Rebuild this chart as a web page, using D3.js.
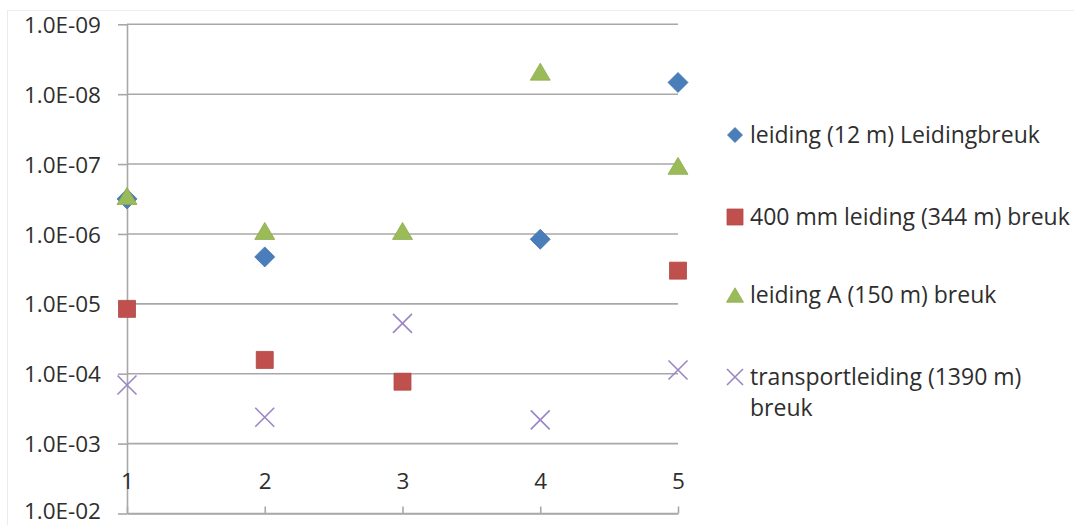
<!DOCTYPE html>
<html>
<head>
<meta charset="utf-8">
<script src="https://cdn.jsdelivr.net/npm/d3@7"></script>
<style>
  html, body { margin: 0; padding: 0; background: #ffffff; }
  svg { display: block; }
  text { font-family: "Open Sans", "Liberation Sans", sans-serif; fill: #2e2e2e; }
</style>
</head>
<body>
<svg id="chart" width="1074" height="525"></svg>
<script>
// Scenario numbers along the horizontal axis
const scenarios = [1, 2, 3, 4, 5];

// Probability per scenario for each pipe failure (null = no value)
const leiding12 = [3.15e-7, 2.13e-6, null, 1.19e-6, 6.8e-9];
const leiding400mm = [1.18e-5, 6.35e-5, 1.30e-4, null, 3.35e-6];
const leidingA = [2.86e-7, 9.05e-7, 9.05e-7, 4.76e-9, 1.06e-7];
const transportleiding = [1.45e-4, 4.19e-4, 1.90e-5, 4.58e-4, 8.83e-5];

// Axis tick values and series names
const yTicks = [1e-9, 1e-8, 1e-7, 1e-6, 1e-5, 1e-4, 1e-3, 1e-2];
const seriesNames = [
  "leiding (12 m) Leidingbreuk",
  "400 mm leiding (344 m) breuk",
  "leiding A (150 m) breuk",
  ["transportleiding (1390 m)", "breuk"]
];

const series = [
  { name: seriesNames[0], values: leiding12, shape: "diamond", color: "#4A7EBB" },
  { name: seriesNames[1], values: leiding400mm, shape: "square", color: "#C0504D" },
  { name: seriesNames[2], values: leidingA, shape: "triangle", color: "#9BBB59" },
  { name: seriesNames[3], values: transportleiding, shape: "x", color: "#9A86C4" }
];

const svg = d3.select("#chart");
const gridColor = "#a8a8a8";
const labelSize = "22.5px";

// Chart area frame
svg.append("rect")
  .attr("x", 7.5).attr("y", 10.5)
  .attr("width", 1100).attr("height", 600)
  .attr("fill", "none").attr("stroke", "#ececec");

// Reversed logarithmic value axis: smallest probability on top
const y = d3.scaleLog().domain([1e-9, 1e-2]).range([24.3, 513.5]);
const x = d3.scaleLinear().domain([1, 5]).range([127, 678]);

// Horizontal gridlines
svg.append("g")
  .selectAll("line")
  .data(yTicks)
  .join("line")
  .attr("x1", x(1)).attr("x2", x(5))
  .attr("y1", d => y(d)).attr("y2", d => y(d))
  .attr("stroke", gridColor).attr("stroke-width", 1.6);

// Exponent label like 1.0E-09
const sci = v => {
  const e = Math.round(Math.log10(v));
  const m = v / Math.pow(10, e);
  const sign = e < 0 ? "-" : "+";
  return m.toFixed(1) + "E" + sign + String(Math.abs(e)).padStart(2, "0");
};

const yAxis = svg.append("g")
  .attr("transform", `translate(${x(1)},0)`)
  .call(d3.axisLeft(y).tickValues(yTicks).tickFormat(sci).tickSize(9).tickSizeOuter(0).tickPadding(17));
yAxis.select(".domain").attr("stroke", gridColor).attr("stroke-width", 1.6);
yAxis.selectAll(".tick line").attr("stroke", gridColor).attr("stroke-width", 1.6);
yAxis.selectAll(".tick text")
  // lowest label sits against the bottom edge, keep it inside the frame
  .attr("dy", d => d === 1e-2 ? "0.24em" : "0.36em")
  .style("font-family", "\"Open Sans\", sans-serif")
  .style("font-size", labelSize)
  .attr("fill", "#2e2e2e");

const xAxis = svg.append("g")
  .attr("transform", `translate(0,${y(1e-2)})`)
  .call(d3.axisTop(x).tickValues(scenarios).tickFormat(d3.format("d")).tickSize(7).tickSizeOuter(0).tickPadding(18));
xAxis.select(".domain").attr("stroke", gridColor).attr("stroke-width", 1.6);
xAxis.selectAll(".tick line").attr("stroke", gridColor).attr("stroke-width", 1.6);
xAxis.selectAll(".tick text")
  .style("font-family", "\"Open Sans\", sans-serif")
  .style("font-size", labelSize)
  .attr("fill", "#2e2e2e");

// Marker shapes, centred on their bounding box
function markerPath(shape, s) {
  const h = s / 2;
  if (shape === "diamond") return `M0,${-h}L${h},0L0,${h}L${-h},0Z`;
  if (shape === "square") return `M${-h},${-h}H${h}V${h}H${-h}Z`;
  if (shape === "triangle") return `M0,${-h * 0.85}L${h},${h * 0.85}L${-h},${h * 0.85}Z`;
  return `M${-h},${-h}L${h},${h}M${h},${-h}L${-h},${h}`;
}
const markerSize = { diamond: 20, square: 17, triangle: 20, x: 19 };

function drawMarker(g, shape, color, size) {
  const p = g.append("path").attr("d", markerPath(shape, size));
  if (shape === "x") {
    p.attr("fill", "none").attr("stroke", color).attr("stroke-width", 1.6);
  } else {
    p.attr("fill", color).attr("stroke", d3.color(color).darker(0.25)).attr("stroke-width", 0.8);
  }
}

// Data points
series.forEach(s => {
  const g = svg.append("g");
  s.values.forEach((v, i) => {
    if (v == null) return;
    const m = g.append("g").attr("transform", `translate(${x(scenarios[i])},${y(v)})`);
    drawMarker(m, s.shape, s.color, markerSize[s.shape]);
  });
});

// Legend
const legendRows = [135, 217, 295, 377];
const legend = svg.append("g");
series.forEach((s, i) => {
  const row = legend.append("g").attr("transform", `translate(735,${legendRows[i]})`);
  const sz = { diamond: 15, square: 16, triangle: 17, x: 16 }[s.shape];
  drawMarker(row, s.shape, s.color, sz);
  const lines = Array.isArray(s.name) ? s.name : [s.name];
  const t = row.append("text")
    .attr("x", 15).attr("y", 0)
    .style("font-size", "23px");
  lines.forEach((ln, k) => {
    t.append("tspan").attr("x", 15).attr("dy", k === 0 ? "0.36em" : "1.35em").text(ln);
  });
});
</script>
</body>
</html>
